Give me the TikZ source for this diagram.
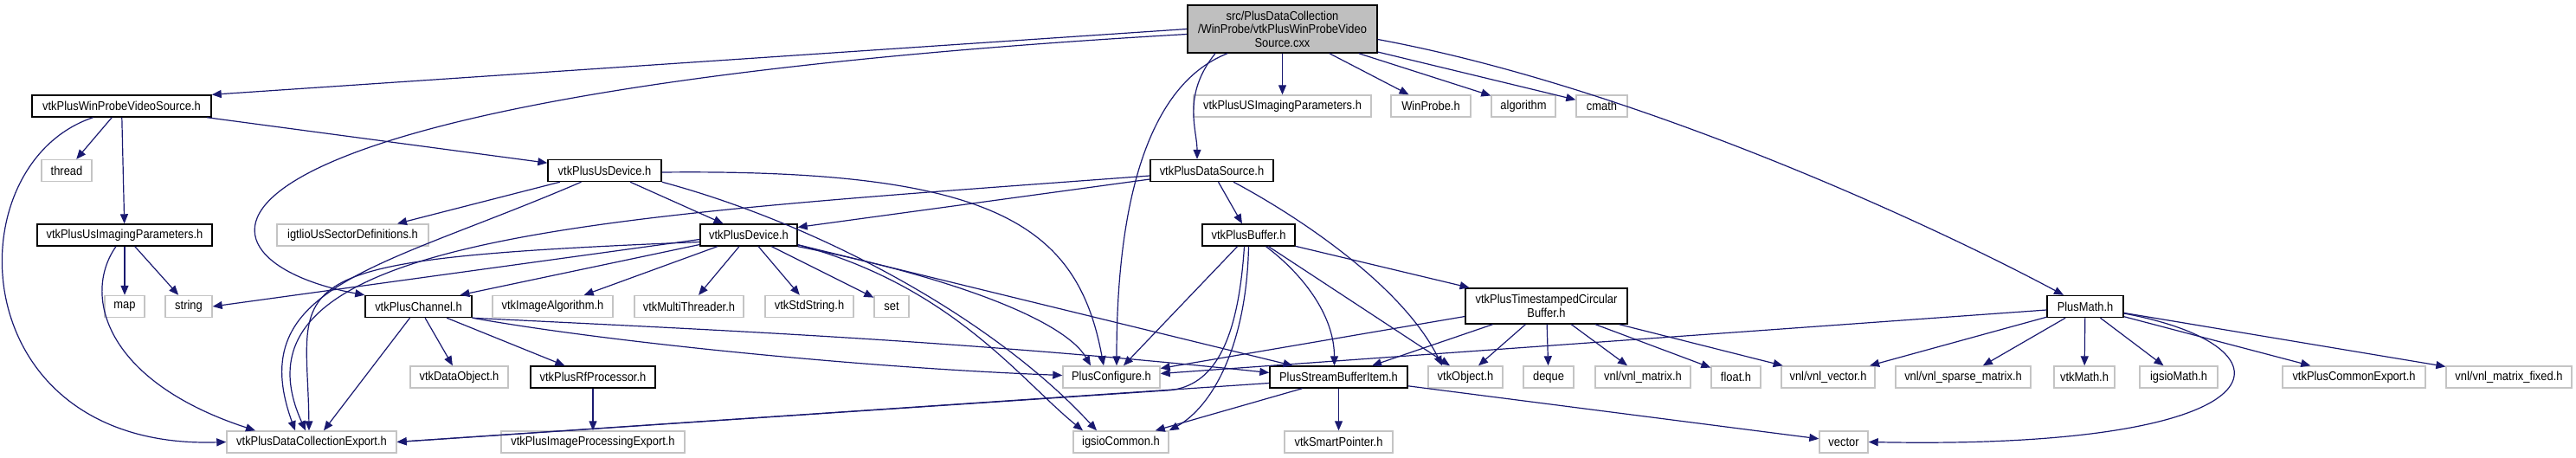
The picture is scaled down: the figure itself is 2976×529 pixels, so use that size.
\documentclass[tikz,border=0pt]{standalone}
\usepackage{fontspec}
\setmainfont{Liberation Sans}[FakeStretch=0.89]
\usepackage{tikz}
\usetikzlibrary{arrows.meta}
\definecolor{edgeblue}{HTML}{191970}
\definecolor{rootgray}{HTML}{BFBFBF}
\definecolor{extgray}{HTML}{C4C4C4}
\newcommand{\doxfont}{\fontsize{14.5}{15.5}\selectfont}
\tikzstyle{doc}  = [rectangle, draw=black, line width=1.4pt, fill=white, minimum height=25pt, inner sep=0pt, font=\doxfont]
\tikzstyle{ext}  = [rectangle, draw=extgray, line width=1.4pt, fill=white, minimum height=25pt, inner sep=0pt, font=\doxfont]
\tikzstyle{root} = [doc, fill=rootgray, minimum height=55pt, align=center]
\tikzstyle{dep}  = [draw=edgeblue, line width=1.2pt, -{Triangle[length=11pt,width=9pt]}]

\begin{document}
\begin{tikzpicture}[x=1pt,y=-1pt]
		\useasboundingbox (0,0) rectangle (2976,529);

		\node[root, minimum width=219pt] (cxx) at (1481.5,33.5) {src/PlusDataCollection\\/WinProbe/vtkPlusWinProbeVideo\\Source.cxx};

		\node[doc, minimum width=207pt] (wpvs) at (140.5,122.5) {vtkPlusWinProbeVideoSource.h};
		\node[ext, minimum width=205pt] (usipcap) at (1481.5,122.5) {vtkPlusUSImagingParameters.h};
		\node[ext, minimum width=92pt] (winprobe) at (1653,122.5) {WinProbe.h};
		\node[ext, minimum width=74pt] (algorithm) at (1760,122.5) {algorithm};
		\node[ext, minimum width=59pt] (cmath) at (1850.5,122.5) {cmath};

		\node[ext, minimum width=58pt] (thread) at (77,197) {thread};
		\node[doc, minimum width=131pt] (usdev) at (698.5,197) {vtkPlusUsDevice.h};
		\node[doc, minimum width=142pt] (dsrc) at (1400,197) {vtkPlusDataSource.h};

		\node[doc, minimum width=202pt] (usip) at (144,271.5) {vtkPlusUsImagingParameters.h};
		\node[ext, minimum width=175pt] (igtlio) at (407.5,271.5) {igtlioUsSectorDefinitions.h};
		\node[doc, minimum width=112pt] (device) at (865,271.5) {vtkPlusDevice.h};
		\node[doc, minimum width=107pt] (buffer) at (1442.5,271.5) {vtkPlusBuffer.h};

		\node[ext, minimum width=46pt] (map) at (144,354) {map};
		\node[ext, minimum width=54pt] (string) at (218,354) {string};
		\node[doc, minimum width=123pt] (channel) at (483.5,354) {vtkPlusChannel.h};
		\node[ext, minimum width=139pt] (imgalg) at (638.5,354) {vtkImageAlgorithm.h};
		\node[ext, minimum width=126pt] (mthread) at (796,354) {vtkMultiThreader.h};
		\node[ext, minimum width=102pt] (stdstr) at (935,354) {vtkStdString.h};
		\node[ext, minimum width=40pt] (set) at (1030,354) {set};
		\node[doc, minimum width=187pt, minimum height=41pt, align=center] (tcb) at (1786.5,353.5) {vtkPlusTimestampedCircular\\Buffer.h};
		\node[doc, minimum width=88pt] (pmath) at (2409,354) {PlusMath.h};

		\node[ext, minimum width=113pt] (dataobj) at (530.5,435.5) {vtkDataObject.h};
		\node[doc, minimum width=144pt] (rfproc) at (685,435.5) {vtkPlusRfProcessor.h};
		\node[ext, minimum width=112pt] (pconf) at (1284,435.5) {PlusConfigure.h};
		\node[doc, minimum width=159pt] (psbi) at (1546.5,435.5) {PlusStreamBufferItem.h};
		\node[ext, minimum width=86pt] (vtkobj) at (1693,435.5) {vtkObject.h};
		\node[ext, minimum width=58pt] (deque) at (1789,435.5) {deque};
		\node[ext, minimum width=110pt] (vnlmat) at (1898,435.5) {vnl/vnl\_matrix.h};
		\node[ext, minimum width=57pt] (floath) at (2005.5,435.5) {float.h};
		\node[ext, minimum width=108pt] (vnlvec) at (2112,435.5) {vnl/vnl\_vector.h};
		\node[ext, minimum width=156pt] (vnlsparse) at (2268,435.5) {vnl/vnl\_sparse\_matrix.h};
		\node[ext, minimum width=70pt] (vtkmath) at (2408,435.5) {vtkMath.h};
		\node[ext, minimum width=90pt] (igsiomath) at (2517,435.5) {igsioMath.h};
		\node[ext, minimum width=165pt] (commonexp) at (2719.5,435.5) {vtkPlusCommonExport.h};
		\node[ext, minimum width=145pt] (vnlfixed) at (2898.5,435.5) {vnl/vnl\_matrix\_fixed.h};

		\node[ext, minimum width=196pt] (dce) at (360,510.5) {vtkPlusDataCollectionExport.h};
		\node[ext, minimum width=212pt] (ipexp) at (685,510.5) {vtkPlusImageProcessingExport.h};
		\node[ext, minimum width=110pt] (igsiocom) at (1295,510.5) {igsioCommon.h};
		\node[ext, minimum width=125pt] (smartptr) at (1546.5,510.5) {vtkSmartPointer.h};
		\node[ext, minimum width=56pt] (vector) at (2130,510.5) {vector};

		\coordinate (bufbend) at (1352,450.7);

		\draw[dep] (cxx.west) -- (wpvs.north east);
		\draw[dep] ([yshift=-6pt]cxx.west) .. controls (150,110) and (200,300) .. (channel.north west);
		\draw[dep] (cxx.204) .. controls (1320,100) and (1290,250) .. ([xshift=6pt]pconf.north);
		\draw[dep] (cxx.200) .. controls (1365,110) and (1383,150) .. ([xshift=-17pt]dsrc.north);
		\draw[dep] (cxx) -- (usipcap);
		\draw[dep] (cxx) -- (winprobe);
		\draw[dep] (cxx) -- (algorithm);
		\draw[dep] (cxx) -- (cmath);
		\draw[dep] ([yshift=-12pt]cxx.east) .. controls (1891,101) and (2235,261) .. ([xshift=-25pt]pmath.north);

		\draw[dep] (wpvs) -- (thread);
		\draw[dep] (wpvs) -- (usip);
		\draw[dep] (wpvs) -- (usdev);
		\draw[dep] ([xshift=-33pt]wpvs.south) .. controls (-55,190) and (-45,520) .. (dce.west);

		\draw[dep] (usip) -- (map);
		\draw[dep] (usip) -- (string);
		\draw[dep] ([xshift=-10pt]usip.south) .. controls (95,340) and (120,440) .. ([xshift=-65pt]dce.north);

		\draw[dep] (usdev) -- (igtlio);
		\draw[dep] (usdev) -- (device);
		\draw[dep] ([xshift=-27pt]usdev.south) .. controls (440,310) and (280,330) .. ([xshift=-19pt]dce.north);
		\draw[dep] ([yshift=-2pt]usdev.east) .. controls (1150,195) and (1245,260) .. ([xshift=-9pt]pconf.north);
		\draw[dep] (usdev.south east) .. controls (950,260) and (1150,370) .. ([xshift=-28pt]igsiocom.north);

		\draw[dep] ([yshift=-10pt]dsrc.west) -- ([yshift=9pt]device.east);
		\draw[dep] ([yshift=-6pt]dsrc.west) .. controls (700,250) and (250,270) .. ([xshift=-7pt]dce.north);
		\draw[dep] (dsrc) -- (buffer);
		\draw[dep] ([xshift=25pt]dsrc.south) .. controls (1500,250) and (1620,330) .. ([xshift=-27pt]vtkobj.north);

		\draw[dep] ([yshift=-5pt]device.west) -- (string.east);
		\draw[dep] ([yshift=-8pt]device.west) .. controls (300,300) and (355,320) .. ([xshift=-3pt]dce.north);
		\draw[dep] ([yshift=-11pt]device.west) -- ([xshift=48pt]channel.north);
		\draw[dep] (device) -- (imgalg);
		\draw[dep] (device) -- (mthread);
		\draw[dep] (device) -- (stdstr);
		\draw[dep] (device) -- (set);
		\draw[dep] (device.south east) .. controls (1100,320) and (1230,370) .. ([xshift=-24pt]pconf.north);
		\draw[dep] ([yshift=2pt]device.south east) .. controls (1100,330) and (1180,440) .. ([xshift=-44pt]igsiocom.north);
		\draw[dep] ([yshift=2pt]device.south east) -- ([xshift=-53pt]psbi.north);

		\draw[dep] ([xshift=-10pt]channel.south) -- ([xshift=14pt]dce.north);
		\draw[dep] (channel) -- (dataobj);
		\draw[dep] (channel) -- (rfproc);
		\draw[dep] (channel.south east) .. controls (700,395) and (1000,425) .. ([yshift=2pt]pconf.west);
		\draw[dep] (channel.south east) .. controls (800,380) and (1100,392) .. ([yshift=5pt]psbi.west);

		\draw[dep] (rfproc) -- (ipexp);

		\draw[dep] ([xshift=-13pt]buffer.south) -- ([xshift=14pt]pconf.north);
		\draw[dep] ([xshift=-5pt]buffer.south) .. controls (1430,400) and (1400,445) .. (bufbend) -- (dce.east);
		\draw[dep] (buffer.south) .. controls (1440,400) and (1400,470) .. (igsiocom.north east);
		\draw[dep] ([xshift=20pt]buffer.south) .. controls +(40,30) and +(0,-60) .. ([xshift=-5pt]psbi.north);
		\draw[dep] ([xshift=23pt]buffer.south) -- ([xshift=-18pt]vtkobj.north);
		\draw[dep] (buffer) -- (tcb);

		\draw[dep] ([yshift=-12pt]tcb.west) -- ([yshift=10pt]pconf.east);
		\draw[dep] (tcb) -- (psbi);
		\draw[dep] (tcb) -- (vtkobj);
		\draw[dep] (tcb) -- (deque);
		\draw[dep] (tcb) -- (vnlmat);
		\draw[dep] (tcb) -- (floath);
		\draw[dep] (tcb) -- (vnlvec);

		\draw[dep] (psbi) -- (smartptr);
		\draw[dep] (psbi) -- (vector);
		\draw[dep] ([yshift=-7pt]psbi.west) -- (dce.east);
		\draw[dep] ([xshift=-42pt]psbi.south) -- ([xshift=-16pt]igsiocom.north east);

		\draw[dep] ([yshift=-4pt]pmath.west) -- ([yshift=4pt]pconf.east);
		\draw[dep] (pmath) -- (vnlvec);
		\draw[dep] (pmath) -- (vnlsparse);
		\draw[dep] (pmath) -- (vtkmath);
		\draw[dep] (pmath) -- (igsiomath);
		\draw[dep] (pmath) -- (commonexp);
		\draw[dep] (pmath) -- (vnlfixed);
		\draw[dep] ([yshift=-8pt]pmath.east) .. controls (2660,400) and (2650,520) .. (vector.east);
	\end{tikzpicture}
\end{document}
